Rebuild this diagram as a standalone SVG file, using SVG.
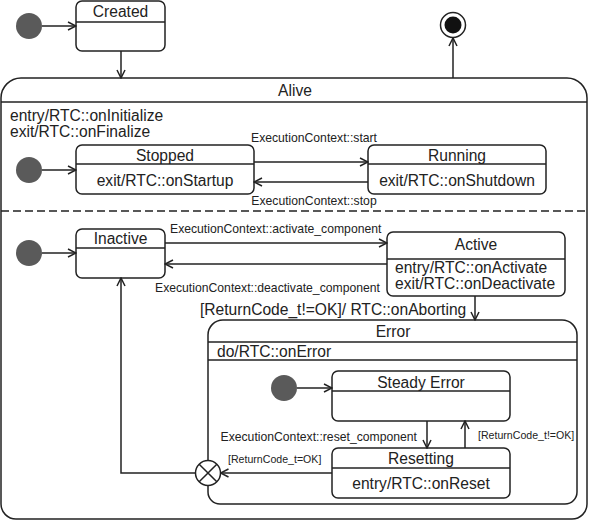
<svg xmlns="http://www.w3.org/2000/svg" width="589" height="521" viewBox="0 0 589 521">
<defs>
<style>
.st{fill:#fff;stroke:#222;stroke-width:1.5}
.ln{fill:none;stroke:#222;stroke-width:1.5}
.init{fill:#5a5a5a}
text{font-family:"Liberation Sans",Arial,sans-serif;fill:#222}
.t{font-size:15.6px}
.c{text-anchor:middle}
.s{font-size:12.2px}
.xs{font-size:10.6px}
</style>
<marker id="ah" viewBox="0 0 10 10" refX="9" refY="5" markerWidth="10" markerHeight="10" markerUnits="userSpaceOnUse" orient="auto">
<path d="M1,1 L9,5 L1,9" fill="none" stroke="#222" stroke-width="1.5"/>
</marker>
</defs>
<rect width="589" height="521" fill="#fff"/>

<g id="initTop"><circle class="init" cx="29" cy="26" r="13"/></g>
<g id="Created">
<rect class="st" x="76" y="1" width="89" height="50" rx="6"/>
<line class="ln" x1="76" y1="22" x2="165" y2="22"/>
<text class="t c" x="120.5" y="16.5">Created</text>
</g>
<g id="Final">
<circle cx="453" cy="25" r="12.5" fill="#fff" stroke="#222" stroke-width="1.5"/>
<circle cx="453" cy="25" r="8.5" fill="#111"/>
</g>

<g id="Alive">
<path class="st" d="M21,78 H567 A20,20 0 0 1 587,98 V504 A15,15 0 0 1 572,519 H16 A15,15 0 0 1 1,504 V98 A20,20 0 0 1 21,78 Z"/>
<line class="ln" x1="1" y1="102" x2="587" y2="102"/>
<text class="t c" x="295" y="96">Alive</text>
<text class="t" x="10" y="121">entry/RTC::onInitialize</text>
<text class="t" x="10" y="137">exit/RTC::onFinalize</text>
<line class="ln" x1="1" y1="211" x2="587" y2="211" stroke-dasharray="8,4"/>
</g>

<g id="initStopped"><circle class="init" cx="29" cy="170" r="13"/></g>
<g id="Stopped">
<rect class="st" x="76" y="145" width="178" height="49" rx="6"/>
<line class="ln" x1="76" y1="164" x2="254" y2="164"/>
<text class="t c" x="165" y="161">Stopped</text>
<text class="t c" x="165" y="186">exit/RTC::onStartup</text>
</g>
<g id="Running">
<rect class="st" x="368" y="145" width="178" height="49" rx="6"/>
<line class="ln" x1="368" y1="164" x2="546" y2="164"/>
<text class="t c" x="457" y="161">Running</text>
<text class="t c" x="457" y="186">exit/RTC::onShutdown</text>
</g>

<g id="initInactive"><circle class="init" cx="29" cy="253" r="13"/></g>
<g id="Inactive">
<rect class="st" x="76" y="229" width="89" height="49" rx="6"/>
<line class="ln" x1="76" y1="248" x2="165" y2="248"/>
<text class="t c" x="120.5" y="244">Inactive</text>
</g>
<g id="Active">
<rect class="st" x="387" y="232" width="178" height="64" rx="6"/>
<line class="ln" x1="387" y1="259" x2="565" y2="259"/>
<text class="t c" x="476" y="250">Active</text>
<text class="t" x="395" y="273">entry/RTC::onActivate</text>
<text class="t" x="395" y="289">exit/RTC::onDeactivate</text>
</g>

<g id="Error">
<path class="st" d="M223,320 H562 A15,15 0 0 1 577,335 V492 A12,12 0 0 1 565,504 H220 A12,12 0 0 1 208,492 V335 A15,15 0 0 1 223,320 Z"/>
<line class="ln" x1="208" y1="342" x2="577" y2="342"/>
<line class="ln" x1="208" y1="360" x2="577" y2="360"/>
<text class="t c" x="393" y="337">Error</text>
<text class="t" x="217" y="357">do/RTC::onError</text>
</g>
<g id="initError"><circle class="init" cx="284" cy="388" r="13"/></g>
<g id="SteadyError">
<rect class="st" x="332" y="371" width="178" height="50" rx="6"/>
<line class="ln" x1="332" y1="391" x2="510" y2="391"/>
<text class="t c" x="421" y="388">Steady Error</text>
</g>
<g id="Resetting">
<rect class="st" x="332" y="448" width="178" height="50" rx="6"/>
<line class="ln" x1="332" y1="468" x2="510" y2="468"/>
<text class="t c" x="421" y="464">Resetting</text>
<text class="t c" x="421" y="489">entry/RTC::onReset</text>
</g>
<g id="Junction">
<circle cx="208" cy="473" r="12.5" fill="#fff" stroke="#222" stroke-width="1.5"/>
<path class="ln" d="M199.2,464.2 L216.8,481.8 M216.8,464.2 L199.2,481.8"/>
</g>

<g id="connectors">
<line class="ln" x1="42" y1="26" x2="76" y2="26" marker-end="url(#ah)"/>
<line class="ln" x1="121" y1="51" x2="121" y2="78" marker-end="url(#ah)"/>
<line class="ln" x1="453" y1="78" x2="453" y2="38" marker-end="url(#ah)"/>
<line class="ln" x1="42" y1="170" x2="76" y2="170" marker-end="url(#ah)"/>
<line class="ln" x1="254" y1="162" x2="368" y2="162" marker-end="url(#ah)"/>
<text class="s c" x="314" y="141.5">ExecutionContext::start</text>
<line class="ln" x1="368" y1="182" x2="254" y2="182" marker-end="url(#ah)"/>
<text class="s c" x="314" y="205">ExecutionContext::stop</text>
<line class="ln" x1="42" y1="253" x2="76" y2="253" marker-end="url(#ah)"/>
<line class="ln" x1="165" y1="243" x2="387" y2="243" marker-end="url(#ah)"/>
<text class="s" x="170" y="233">ExecutionContext::activate_component</text>
<line class="ln" x1="387" y1="264" x2="165" y2="264" marker-end="url(#ah)"/>
<text class="s" x="155" y="292">ExecutionContext::deactivate_component</text>
<line class="ln" x1="475" y1="296" x2="475" y2="320" marker-end="url(#ah)"/>
<text class="t" x="200" y="315">[ReturnCode_t!=OK]/ RTC::onAborting</text>
<line class="ln" x1="297" y1="388" x2="332" y2="388" marker-end="url(#ah)"/>
<line class="ln" x1="427" y1="421" x2="427" y2="448" marker-end="url(#ah)"/>
<text class="s" x="417" y="441" text-anchor="end">ExecutionContext::reset_component</text>
<line class="ln" x1="465" y1="448" x2="465" y2="421" marker-end="url(#ah)"/>
<text class="xs" x="478" y="439">[ReturnCode_t!=OK]</text>
<line class="ln" x1="332" y1="473" x2="220.5" y2="473" marker-end="url(#ah)"/>
<text class="xs" x="228" y="463">[ReturnCode_t=OK]</text>
<polyline class="ln" points="195.5,473 121,473 121,278" marker-end="url(#ah)"/>
</g>
</svg>
